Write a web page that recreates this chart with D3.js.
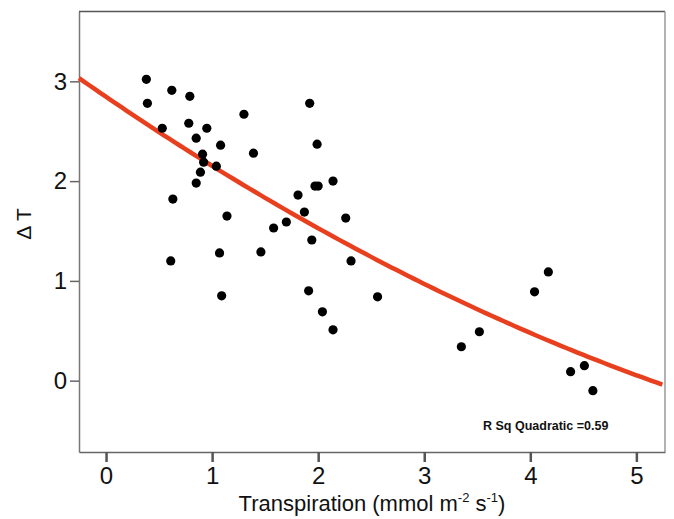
<!doctype html>
<html>
<head>
    <script src="https://cdnjs.cloudflare.com/ajax/libs/d3/7.8.5/d3.min.js"></script>
    <style>
        body { margin: 0; background: #fff; }
        svg text { font-family: "Liberation Sans", Arial, sans-serif; fill: #111; }
    </style>
</head>
<body>
<script>
    // transpiration (mmol m-2 s-1) vs delta T
    let transpiration = [0.38, 0.39, 0.62, 0.79, 0.53, 0.78, 0.95, 0.85, 1.08, 1.30,
                         0.91, 0.92, 1.04, 0.89, 0.85, 0.63, 1.39, 1.92, 1.99, 1.97,
                         2.00, 2.14, 1.81, 1.87, 1.70, 1.58, 1.14, 1.94, 2.26, 1.46,
                         1.07, 0.61, 2.31, 1.09, 1.91, 2.04, 2.14, 2.56, 3.35, 3.52,
                         4.04, 4.17, 4.51, 4.38, 4.59];
    let deltaT = [3.02, 2.78, 2.91, 2.85, 2.53, 2.58, 2.53, 2.43, 2.36, 2.67,
                  2.27, 2.19, 2.15, 2.09, 1.98, 1.82, 2.28, 2.78, 2.37, 1.95,
                  1.95, 2.00, 1.86, 1.69, 1.59, 1.53, 1.65, 1.41, 1.63, 1.29,
                  1.28, 1.20, 1.20, 0.85, 0.90, 0.69, 0.51, 0.84, 0.34, 0.49,
                  0.89, 1.09, 0.15, 0.09, -0.10];

    // quadratic fit y = a + b x + c x^2
    let fitCoef = [2.845, -0.7256, 0.0335];
    let rSqText = "R Sq Quadratic =0.59";

    let xTicks = [0, 1, 2, 3, 4, 5],
        yTicks = [0, 1, 2, 3];

    let width = 674, height = 519;
    let margin = {top: 11.5, right: 9, bottom: 67, left: 79};

    let x = d3.scaleLinear().domain([-0.255, 5.27]).range([margin.left, width - margin.right]);
    let y = d3.scaleLinear().domain([-0.715, 3.70]).range([height - margin.bottom, margin.top]);

    let svg = d3.select("body").append("svg")
                .attr("width", width)
                .attr("height", height);

    // frame: top and right borders
    svg.append("line")
       .attr("x1", margin.left).attr("x2", width - margin.right)
       .attr("y1", margin.top).attr("y2", margin.top)
       .attr("stroke", "#555").attr("stroke-width", 1.5);
    svg.append("line")
       .attr("x1", width - margin.right).attr("x2", width - margin.right)
       .attr("y1", margin.top).attr("y2", height - margin.bottom)
       .attr("stroke", "#999").attr("stroke-width", 1.5);

    // y axis
    let yAxis = svg.append("g")
                   .attr("transform", "translate(" + margin.left + ",0)")
                   .call(d3.axisLeft(y).tickValues(yTicks).tickFormat(d3.format("d"))
                           .tickSize(9).tickPadding(3).tickSizeOuter(0));
    yAxis.select(".domain").attr("stroke", "#777").attr("stroke-width", 1.5);
    yAxis.selectAll(".tick line").attr("stroke", "#666").attr("stroke-width", 1.5);
    yAxis.selectAll("text").style("font-size", "24px").attr("fill", "#111");

    // x axis
    let xAxis = svg.append("g")
                   .attr("transform", "translate(0," + (height - margin.bottom) + ")")
                   .call(d3.axisBottom(x).tickValues(xTicks).tickFormat(d3.format("d"))
                           .tickSize(10).tickPadding(5).tickSizeOuter(0));
    xAxis.select(".domain").attr("stroke", "#666").attr("stroke-width", 1.5);
    xAxis.selectAll(".tick line").attr("stroke", "#555").attr("stroke-width", 2.5);
    xAxis.selectAll("text").style("font-size", "24px").attr("fill", "#111");

    // fit curve
    let curveX = d3.range(x.domain()[0], x.domain()[1] + 0.001, 0.05);
    let line = d3.line()
                 .x(d => x(d))
                 .y(d => y(fitCoef[0] + fitCoef[1] * d + fitCoef[2] * d * d));
    svg.append("path")
       .datum(curveX)
       .attr("d", line)
       .attr("fill", "none")
       .attr("stroke", "#e8401f")
       .attr("stroke-width", 4.5);

    // points
    svg.append("g")
       .selectAll("circle")
       .data(transpiration)
       .enter()
       .append("circle")
       .attr("cx", d => x(d))
       .attr("cy", (d, i) => y(deltaT[i]))
       .attr("r", 4.6)
       .attr("fill", "#000");

    // R squared note
    svg.append("text")
       .attr("x", 483).attr("y", 430)
       .style("font-size", "12.5px")
       .style("font-weight", "bold")
       .attr("fill", "#333")
       .text(rSqText);

    // x label with superscripts
    let xl = svg.append("text")
                .attr("x", 372).attr("y", 511)
                .attr("text-anchor", "middle")
                .style("font-size", "22px");
    xl.append("tspan").text("Transpiration (mmol m");
    xl.append("tspan").attr("dy", -9).style("font-size", "13px").text("-2");
    xl.append("tspan").attr("dy", 9).text(" s");
    xl.append("tspan").attr("dy", -9).style("font-size", "13px").text("-1");
    xl.append("tspan").attr("dy", 9).text(")");

    // y label
    svg.append("text")
       .attr("transform", "translate(31,224) rotate(-90)")
       .attr("text-anchor", "middle")
       .style("font-size", "21px")
       .text("\u0394 T");
</script>
</body>
</html>
